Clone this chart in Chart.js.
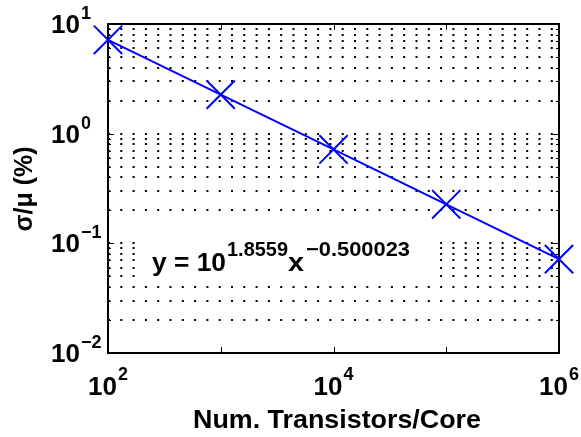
<!DOCTYPE html>
<html><head><meta charset="utf-8">
<script src="https://cdn.jsdelivr.net/npm/chart.js@4/dist/chart.umd.min.js"></script>
<style>html,body{margin:0;padding:0;background:#fff;}#wrap{width:581px;height:437px;position:relative;}</style>
</head><body><div id="wrap"><canvas id="c" width="581" height="437"></canvas></div>
<script>
// ---- data ----
const transistors = [1e2, 1e3, 1e4, 1e5, 1e6];
const sigmaOverMu = [7.18, 2.27, 0.718, 0.227, 0.0718];
const xTickExponents = [2, 4, 6];
const yTickExponents = [-2, -1, 0, 1];
const xTitle = 'Num. Transistors/Core';
const yTitle = 'σ/μ (%)';
const fitLabel = ['y = 10', '1.8559', 'x', '\u22120.500023'];

const FONT = '"Liberation Sans", Arial, Helvetica, sans-serif';
const MAIN = 'bold 26px ' + FONT;
const SUP = 'bold 18px ' + FONT;
const ESUP = 'bold 20px ' + FONT;
const TITLE = 'bold 25px ' + FONT;

function minorValues(e0, e1) {
  const v = [];
  for (let e = e0; e < e1; e++) for (let m = 1; m <= 9; m++) v.push(+(m * Math.pow(10, e)).toPrecision(3));
  v.push(Math.pow(10, e1));
  return v;
}

function fitText(ctx, s, x, y, w) {
  const m = ctx.measureText(s).width;
  ctx.save(); ctx.translate(x, y); ctx.scale(w / m, 1); ctx.fillText(s, 0, 0); ctx.restore();
}

const decor = {
  id: 'decor',
  beforeDatasetsDraw(chart) {
    const ctx = chart.ctx, a = chart.chartArea, xs = chart.scales.x, ys = chart.scales.y;
    ctx.save();
    ctx.strokeStyle = '#000'; ctx.lineWidth = 1;
    ys.ticks.forEach(t => {
      const y = Math.round(ys.getPixelForValue(t.value)) + 0.5;
      const L = Math.abs(Math.log10(t.value) - Math.round(Math.log10(t.value))) < 1e-6 ? 6 : 3;
      ctx.beginPath(); ctx.moveTo(a.left, y); ctx.lineTo(a.left + L, y);
      ctx.moveTo(a.right, y); ctx.lineTo(a.right - L, y); ctx.stroke();
    });
    for (let e = 2; e <= 6; e++) {
      const x = Math.round(xs.getPixelForValue(Math.pow(10, e))) + 0.5;
      ctx.beginPath(); ctx.moveTo(x, a.bottom); ctx.lineTo(x, a.bottom - 6);
      ctx.moveTo(x, a.top); ctx.lineTo(x, a.top + 6); ctx.stroke();
    }
    // equation box
    ctx.fillStyle = '#fff';
    ctx.fillRect(138, 222, 292, 60);
    ctx.fillStyle = '#000';
    ctx.textBaseline = 'alphabetic'; ctx.textAlign = 'left';
    const base = 271;
    ctx.font = MAIN; fitText(ctx, fitLabel[0], 152, base, 74);
    ctx.font = ESUP; fitText(ctx, fitLabel[1], 227, base - 15, 61);
    ctx.font = MAIN; fitText(ctx, fitLabel[2], 288, base, 16);
    ctx.font = ESUP; fitText(ctx, fitLabel[3], 306, base - 15, 104);
    ctx.lineWidth = 2; ctx.strokeStyle = '#000';
    ctx.strokeRect(a.left, a.top, a.right - a.left, a.bottom - a.top);
    ctx.restore();
  },
  afterDraw(chart) {
    const ctx = chart.ctx, xs = chart.scales.x, ys = chart.scales.y;
    ctx.save();
    ctx.fillStyle = '#000'; ctx.textBaseline = 'alphabetic'; ctx.textAlign = 'left';
    yTickExponents.forEach(e => {
      const y = ys.getPixelForValue(Math.pow(10, e));
      const b = y + 9;
      ctx.font = MAIN; ctx.fillText('10', 51, b);
      const w = ctx.measureText('10').width;
      ctx.font = SUP; ctx.fillText(e < 0 ? '\u2212' + (-e) : String(e), 51 + w + 1, b - 14);
    });
    xTickExponents.forEach(e => {
      const xc = xs.getPixelForValue(Math.pow(10, e));
      ctx.font = MAIN; const w1 = ctx.measureText('10').width;
      ctx.font = SUP; const s = String(e); const w2 = ctx.measureText(s).width;
      const x0 = xc - (w1 + w2 + 1) / 2;
      ctx.font = MAIN; ctx.fillText('10', x0, 395);
      ctx.font = SUP; ctx.fillText(s, x0 + w1 + 1, 380);
    });
    ctx.font = TITLE;
    fitText(ctx, xTitle, 193, 428, 288);
    ctx.translate(25, 189); ctx.rotate(-Math.PI / 2);
    ctx.textBaseline = 'middle'; ctx.textAlign = 'center';
    ctx.fillText(yTitle, 0, 0);
    ctx.restore();
  }
};

new Chart(document.getElementById('c'), {
  type: 'line',
  data: {
    labels: transistors,
    datasets: [{
      data: transistors.map((x, i) => ({ x, y: sigmaOverMu[i] })),
      borderColor: '#0000ff', borderWidth: 2,
      pointStyle: 'crossRot', pointRadius: 20, pointHoverRadius: 20,
      pointBorderColor: '#0000ff', pointBorderWidth: 2, pointBackgroundColor: 'rgba(0,0,0,0)',
      fill: false, tension: 0, clip: false
    }]
  },
  options: {
    responsive: false, animation: false,
    layout: { padding: { left: 0, top: 24, right: 20, bottom: 0 } },
    plugins: { legend: { display: false }, tooltip: { enabled: false } },
    scales: {
      x: {
        type: 'logarithmic', min: 1e2, max: 1e6,
        grid: { display: false, drawTicks: false },
        border: { display: false },
        ticks: { display: false },
        afterBuildTicks: s => { s.ticks = minorValues(2, 6).map(v => ({ value: v })); },
        afterFit: s => { s.height = 84; }
      },
      y: {
        type: 'logarithmic', min: 1e-2, max: 1e1,
        grid: { display: true, drawTicks: false, color: '#000', lineWidth: 2 },
        border: { display: false, dash: [2, 10.3] },
        ticks: { display: false },
        afterBuildTicks: s => { s.ticks = minorValues(-2, 1).map(v => ({ value: v })); },
        afterFit: s => { s.width = 108; }
      }
    }
  },
  plugins: [decor]
});
</script></body></html>
